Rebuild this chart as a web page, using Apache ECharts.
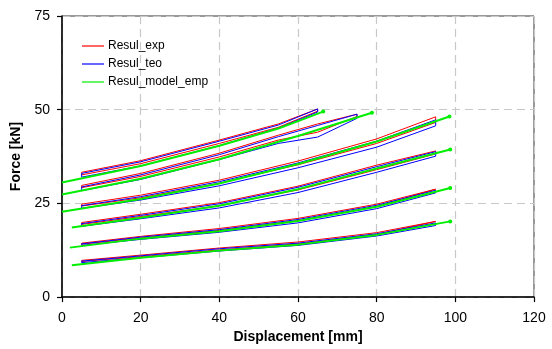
<!DOCTYPE html>
<html>
<head>
<meta charset="utf-8">
<script src="https://cdn.jsdelivr.net/npm/echarts@6/dist/echarts.min.js"></script>
<style>
  html, body { margin: 0; padding: 0; background: #fff; }
  #chart { width: 552px; height: 349px; }
</style>
</head>
<body>
<div id="chart"></div>
<script>
// x positions of each loading loop (top group first)
const groupX = [
  [5, 20, 40, 55, 65],
  [5, 20, 40, 55, 65, 75],
  [5, 20, 40, 60, 80, 95],
  [5, 20, 40, 60, 80, 95],
  [5, 20, 40, 60, 80, 95],
  [5, 20, 40, 60, 80, 95],
];

// Resul_exp (red) upper / lower branches, kN
const expUpper = [
  [33.3, 36.4, 41.9, 46.2, 50.2],
  [29.8, 33.0, 38.4, 43.2, 46.2, 48.8],
  [24.8, 27.2, 31.2, 36.3, 42.2, 48.1],
  [19.9, 22.1, 25.2, 29.6, 35.2, 39.0],
  [14.4, 16.2, 18.3, 21.0, 24.8, 28.8],
  [9.8, 11.2, 13.1, 14.7, 17.2, 20.2],
];
const expLower = [
  [32.6, 35.6, 41.0, 45.3, 49.6],
  [29.2, 32.2, 37.4, 41.9, 44.0, 48.2],
  [24.3, 26.5, 30.4, 35.3, 41.0, 46.6],
  [19.4, 21.5, 24.4, 28.6, 34.0, 38.2],
  [14.1, 15.8, 17.8, 20.4, 24.2, 28.3],
  [9.5, 10.8, 12.6, 14.2, 16.7, 19.7],
];

// Resul_teo (blue)
const teoUpper = [
  [33.0, 36.1, 41.6, 45.9, 50.2],
  [29.4, 32.6, 38.0, 42.8, 45.8, 48.8],
  [24.4, 26.8, 30.8, 35.8, 41.6, 47.3],
  [19.6, 21.8, 24.9, 29.3, 34.8, 38.8],
  [14.2, 16.0, 18.0, 20.7, 24.5, 28.5],
  [9.6, 11.0, 12.9, 14.4, 16.9, 19.8],
];
const teoLower = [
  [32.0, 35.0, 40.4, 45.1, 49.4],
  [28.4, 31.4, 36.7, 41.0, 42.7, 47.7],
  [23.7, 25.9, 29.7, 34.5, 40.0, 45.7],
  [18.9, 20.9, 23.8, 27.9, 33.3, 37.6],
  [13.8, 15.4, 17.3, 19.8, 23.6, 27.8],
  [9.2, 10.5, 12.3, 13.8, 16.3, 19.1],
];

// Resul_model_emp (green)
const empX = [
  [0, 20, 40, 55, 66.4],
  [0, 20, 40, 60, 78.8],
  [0, 20, 40, 60, 80, 98.5],
  [2.5, 20, 40, 60, 80, 98.7],
  [2, 20, 40, 60, 80, 98.7],
  [2.5, 20, 40, 60, 80, 98.7],
];
const empY = [
  [30.6, 35.0, 40.4, 45.0, 49.5],
  [27.4, 31.6, 36.8, 43.0, 49.2],
  [22.8, 26.2, 30.3, 35.5, 41.5, 48.2],
  [18.6, 21.2, 24.4, 28.8, 34.3, 39.4],
  [13.2, 15.6, 17.6, 20.3, 24.1, 29.1],
  [8.5, 10.5, 12.4, 14.0, 16.6, 20.2],
];

const xTicks = [0, 20, 40, 60, 80, 100, 120];
const yTicks = [0, 25, 50, 75];

const FONT = 'Liberation Sans, Arial, sans-serif';

// closed loop: upper branch forward, lower branch back
function loop(xs, up, lo) {
  const pts = xs.map((x, i) => [x, up[i]]);
  for (let i = xs.length - 1; i >= 0; i--) pts.push([xs[i], lo[i]]);
  pts.push([xs[0], up[0]]);
  return pts;
}

const series = [];
groupX.forEach((xs, g) => {
  series.push({
    name: 'Resul_exp', type: 'line', symbol: 'none', z: 2,
    itemStyle: { color: '#ff0000' },
    lineStyle: { color: '#ff0000', width: 1 },
    data: loop(xs, expUpper[g], expLower[g]),
  });
});
groupX.forEach((xs, g) => {
  series.push({
    name: 'Resul_teo', type: 'line', symbol: 'none', z: 3,
    itemStyle: { color: '#0000ff' },
    lineStyle: { color: '#0000ff', width: 1 },
    data: loop(xs, teoUpper[g], teoLower[g]),
  });
});
empX.forEach((xs, g) => {
  const n = xs.length;
  series.push({
    name: 'Resul_model_emp', type: 'line', symbol: 'none', showSymbol: true, z: 4,
    itemStyle: { color: '#00ee00' },
    lineStyle: { color: '#00ee00', width: 2 },
    data: xs.map((x, i) => i === n - 1
      ? { value: [x, empY[g][i]], symbol: 'circle', symbolSize: 4 }
      : [x, empY[g][i]]),
  });
});

const chart = echarts.init(document.getElementById('chart'), null, { renderer: 'canvas' });

chart.setOption({
  animation: false,
  backgroundColor: '#fff',
  textStyle: { fontFamily: FONT },
  grid: {
    left: 62, right: 18, top: 16, bottom: 45,
    show: true, borderColor: '#333', borderWidth: 1,
  },
  legend: {
    data: ['Resul_exp', 'Resul_teo', 'Resul_model_emp'],
    orient: 'vertical',
    left: 77, top: 34,
    icon: 'rect',
    itemWidth: 22, itemHeight: 1.2,
    itemGap: 4,
    textStyle: { fontFamily: FONT, fontSize: 12, color: '#000', lineHeight: 14, padding: [0, 0, 0, -1] },
  },
  xAxis: {
    type: 'value',
    min: xTicks[0], max: xTicks[xTicks.length - 1], interval: 20,
    name: 'Displacement [mm]',
    nameLocation: 'middle', nameGap: 30,
    nameTextStyle: { fontFamily: FONT, fontSize: 14, fontWeight: 'bold', color: '#000' },
    axisLine: { onZero: false, lineStyle: { color: '#000', width: 1.5 } },
    axisTick: { show: true, length: 5, lineStyle: { color: '#000', width: 1.2 } },
    axisLabel: { fontFamily: FONT, fontSize: 14, color: '#000', margin: 14 },
    splitLine: { show: true, lineStyle: { color: '#c8c8c8', width: 1.2, type: [8, 5] } },
  },
  yAxis: {
    type: 'value',
    min: yTicks[0], max: yTicks[yTicks.length - 1], interval: 25,
    name: 'Force [kN]',
    nameLocation: 'middle', nameGap: 33,
    nameTextStyle: { fontFamily: FONT, fontSize: 14, fontWeight: 'bold', color: '#000' },
    axisLine: { show: true, onZero: false, lineStyle: { color: '#000', width: 1.5 } },
    axisTick: { show: true, length: 5, lineStyle: { color: '#000', width: 1.2 } },
    axisLabel: { fontFamily: FONT, fontSize: 14, color: '#000', margin: 12 },
    splitLine: { show: true, lineStyle: { color: '#c8c8c8', width: 1.2, type: [8, 5] } },
  },
  series: series,
});
</script>
</body>
</html>
